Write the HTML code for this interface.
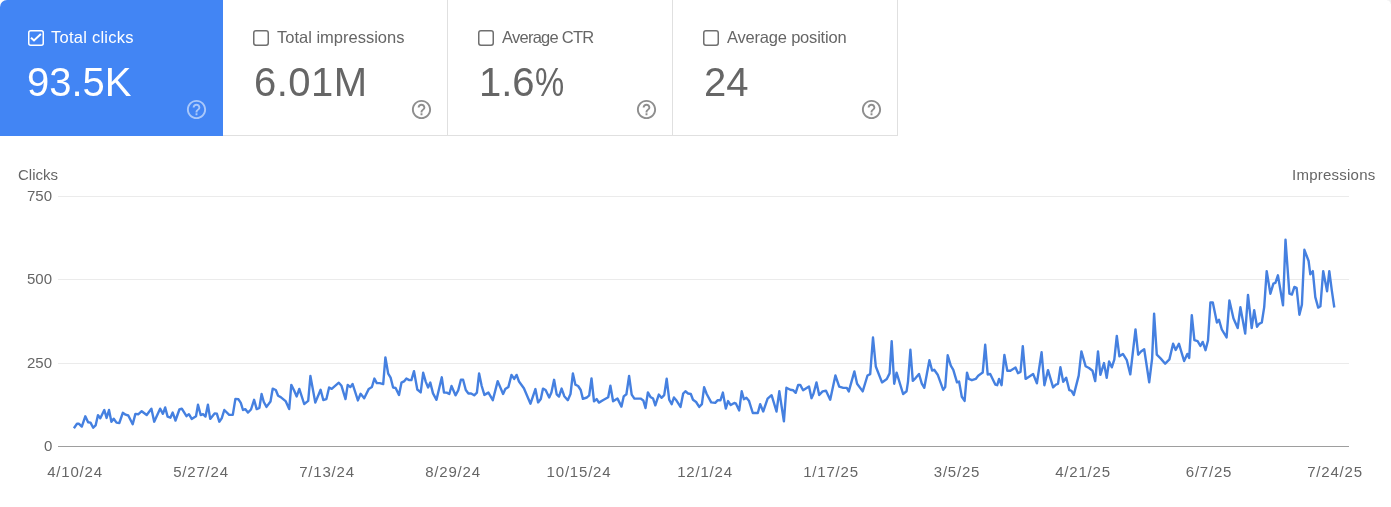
<!DOCTYPE html>
<html><head><meta charset="utf-8"><style>
*{box-sizing:border-box;margin:0;padding:0}
html,body{width:1391px;height:507px;background:#fff;overflow:hidden;font-family:"Liberation Sans",sans-serif;-webkit-font-smoothing:antialiased}
.t,.yl,.xl,.lab,.val{will-change:transform}
.card{position:absolute;top:0;height:136px;border-right:1px solid #e0e0e0;border-bottom:1px solid #e0e0e0;color:#666}
.c1{left:0;width:223px;background:#4285f4;border:none;border-top-left-radius:7px;color:#fff}
.c2{left:223px;width:225px}
.c3{left:448px;width:225px}
.c4{left:673px;width:225px}
.cb{position:absolute;left:30px;top:30px;width:16px;height:16px}
.c1 .cb{left:28px}
.lab{position:absolute;left:54px;top:27px;font-size:16.5px;line-height:20px;white-space:nowrap}
.c1 .lab{left:51px;letter-spacing:0.25px}
.val{position:absolute;left:31px;top:59.5px;font-size:40px;line-height:44px;white-space:nowrap}
.c1 .val{left:27px}
.q{position:absolute;left:187px;top:98px;width:23px;height:23px}
.c1 .q{left:185px}
.t{position:absolute;font-size:15px;color:#666;white-space:nowrap;line-height:16px}
.yl{position:absolute;right:1339px;font-size:15px;color:#666;line-height:16px}
.xl{position:absolute;top:464px;font-size:15px;letter-spacing:0.8px;color:#666;line-height:16px;width:80px;text-align:center}
</style></head><body>
<div class="card c1">
 <div class="cb"><svg width="16" height="16" viewBox="0 0 16 16" style="position:absolute;left:0;top:0"><rect x="0.75" y="0.75" width="14.5" height="14.5" rx="2" fill="none" stroke="#fff" stroke-width="1.5"/><path d="M3 7.7 L6 10.5 L12.9 4" stroke="#fff" stroke-width="2" fill="none"/></svg></div>
 <div class="lab">Total clicks</div>
 <div class="val">93.5K</div>
 <svg class="q" viewBox="0 0 24 24"><path fill="rgba(255,255,255,0.55)" d="M11 18h2v-2h-2v2zm1-16C6.48 2 2 6.48 2 12s4.48 10 10 10 10-4.48 10-10S17.52 2 12 2zm0 18c-4.41 0-8-3.59-8-8s3.59-8 8-8 8 3.59 8 8-3.59 8-8 8zm0-14c-2.21 0-4 1.79-4 4h2c0-1.100.9-2 2-2s2 .9 2 2c0 2-3 1.750-3 5h2c0-2.250 3-2.500 3-5 0-2.210-1.790-4-4-4z"/></svg>
</div>
<div class="card c2">
 <div class="cb"><svg width="16" height="16" viewBox="0 0 16 16" style="position:absolute;left:0;top:0"><rect x="0.75" y="0.75" width="14.5" height="14.5" rx="2.2" fill="none" stroke="#6f6f6f" stroke-width="1.5"/></svg></div>
 <div class="lab">Total impressions</div>
 <div class="val" style="letter-spacing:0.45px">6.01M</div>
 <svg class="q" viewBox="0 0 24 24"><path fill="#8e8e8e" d="M11 18h2v-2h-2v2zm1-16C6.48 2 2 6.48 2 12s4.48 10 10 10 10-4.48 10-10S17.52 2 12 2zm0 18c-4.41 0-8-3.590-8-8s3.590-8 8-8 8 3.590 8 8-3.590 8-8 8zm0-14c-2.210 0-4 1.790-4 4h2c0-1.100.9-2 2-2s2 .9 2 2c0 2-3 1.750-3 5h2c0-2.250 3-2.500 3-5 0-2.210-1.790-4-4-4z"/></svg>
</div>
<div class="card c3">
 <div class="cb"><svg width="16" height="16" viewBox="0 0 16 16" style="position:absolute;left:0;top:0"><rect x="0.75" y="0.75" width="14.5" height="14.5" rx="2.2" fill="none" stroke="#6f6f6f" stroke-width="1.5"/></svg></div>
 <div class="lab" style="letter-spacing:-0.75px">Average CTR</div>
 <div class="val">1.6<span style="display:inline-block;transform:scaleX(0.82);transform-origin:0 0">%</span></div>
 <svg class="q" viewBox="0 0 24 24"><path fill="#8e8e8e" d="M11 18h2v-2h-2v2zm1-16C6.48 2 2 6.48 2 12s4.48 10 10 10 10-4.48 10-10S17.52 2 12 2zm0 18c-4.41 0-8-3.590-8-8s3.590-8 8-8 8 3.590 8 8-3.590 8-8 8zm0-14c-2.210 0-4 1.790-4 4h2c0-1.100.9-2 2-2s2 .9 2 2c0 2-3 1.750-3 5h2c0-2.250 3-2.500 3-5 0-2.210-1.790-4-4-4z"/></svg>
</div>
<div class="card c4">
 <div class="cb"><svg width="16" height="16" viewBox="0 0 16 16" style="position:absolute;left:0;top:0"><rect x="0.75" y="0.75" width="14.5" height="14.5" rx="2.2" fill="none" stroke="#6f6f6f" stroke-width="1.5"/></svg></div>
 <div class="lab" style="letter-spacing:-0.2px">Average position</div>
 <div class="val">24</div>
 <svg class="q" viewBox="0 0 24 24"><path fill="#8e8e8e" d="M11 18h2v-2h-2v2zm1-16C6.48 2 2 6.48 2 12s4.48 10 10 10 10-4.48 10-10S17.52 2 12 2zm0 18c-4.41 0-8-3.590-8-8s3.590-8 8-8 8 3.590 8 8-3.590 8-8 8zm0-14c-2.210 0-4 1.790-4 4h2c0-1.100.9-2 2-2s2 .9 2 2c0 2-3 1.750-3 5h2c0-2.250 3-2.500 3-5 0-2.210-1.790-4-4-4z"/></svg>
</div>

<div style="position:absolute;right:0;top:0;width:4px;height:4px;background:radial-gradient(circle at 0 100%,rgba(240,240,240,0) 3px,#f0f0f0 4.2px)"></div>
<div class="t" style="left:18px;top:167px">Clicks</div>
<div class="t" style="left:1292px;top:167px;letter-spacing:0.24px">Impressions</div>
<div class="yl" style="top:188px">750</div>
<div class="yl" style="top:271px">500</div>
<div class="yl" style="top:355px">250</div>
<div class="yl" style="top:438px">0</div>

<svg style="position:absolute;left:0;top:0" width="1391" height="507">
 <g stroke="#ebebeb" stroke-width="1">
  <line x1="58" y1="196.5" x2="1349" y2="196.5"/>
  <line x1="58" y1="279.5" x2="1349" y2="279.5"/>
  <line x1="58" y1="363.5" x2="1349" y2="363.5"/>
 </g>
 <line x1="58" y1="446.5" x2="1349" y2="446.5" stroke="#9e9e9e" stroke-width="1"/>
 <polyline id="ln" fill="none" stroke="#4580e0" stroke-width="2.4" stroke-linejoin="round" points="73.9,428.2 77,423.8 79,423.8 81.8,426.6 85.3,416.3 88.1,422.2 90.5,422.6 93.2,427.7 95.6,425.4 98,415.1 100.3,418.3 104.3,410 106.6,417.9 109,410 111.4,421.8 113.7,418.7 116.5,422.6 119.3,423 122.8,412.8 125.6,414.7 128.3,415.5 132.7,424.2 135.4,413.9 138.2,414.3 141.7,411.2 146.7,415 151.4,408.7 154.2,421.7 160.1,408.7 162.9,413.8 165.2,407.5 167.6,416.6 170.4,417.7 172.7,412.6 175.5,420.5 179.4,409.5 181.8,408.7 186.5,416.2 188.9,414.2 191.7,418.9 196,416.2 198,404.7 200.7,415 203.1,414.2 205.5,416.6 207.9,404.7 210.2,418.9 214.6,413.4 216.9,413.8 219.3,421.7 221.7,418.4 224.3,410 229.2,414.9 232.8,414.9 235.4,398.9 238.5,399.3 240.8,402.9 243,410 245.2,409.1 247.9,412.6 251,409.5 254.1,399.8 256.7,409.1 259.4,407.8 261.6,394 263.8,402 266.5,406.9 270.5,401.5 272.7,388.7 275.8,390 278.1,395.8 280.7,397.1 285.6,401.1 289.2,409.1 291.3,384.9 294,390.2 296.7,396.4 299.3,388.9 304.2,404 308.2,400.9 310.4,376 315.3,402.6 320.6,389.8 323.3,400 326.4,399.1 329.1,387.5 331.7,388.9 338.8,382.7 341.5,385.8 345.5,399.1 347.7,384.9 350.4,387.1 352.6,384 357.9,400.4 360.6,393.8 364.2,398.2 368.8,388.9 371.9,387 374.4,378.6 376.8,383.1 379.8,383.1 383.2,384.1 385.4,357.4 388.2,373.7 390.6,377.6 393.1,387.5 395.6,388 399,394.9 401.5,382.6 404.4,381.1 406.4,378.6 409.4,380.1 411.4,380.1 414,371.2 417.3,389.5 420.7,392.4 423.2,372.7 425.7,381.6 428.1,387.5 430.3,382.6 433,393.4 436.5,399.8 441.8,377.3 444,392.6 446.7,392.6 449.3,394 451.5,386 455.5,395.3 458.2,390.4 460.9,379.8 463.1,379.8 465.8,390 468.4,393.5 471.1,393.5 474.2,395.3 476.9,392.6 479.1,373.5 481.7,386 484.4,394.9 488.4,392.6 492.8,400.2 497.7,381.1 503.1,394 505.3,389.1 508.4,386.9 511.5,374.9 514.2,378.9 516.6,374.9 519,381.5 523.9,388.2 530.5,403.7 535.4,389.1 538.1,402.4 540.8,398.9 543,388.6 545.6,390 549.2,397.5 551.4,392.6 554.1,379.8 556.7,394.4 559,396.6 561.6,388.6 564.3,396.2 567.8,400.2 570.5,394 572.9,373.5 575.4,384.7 578.1,386 580.7,390 582.9,398.9 586.9,397.5 589.2,395.3 591.5,378.5 594,401.3 596.7,399.1 598.9,402.6 603.3,400 608.2,397.3 610.4,385.8 613.1,401.3 617.5,398.6 621.5,406.6 623.7,396.4 626.4,394.2 629.1,376 631.7,394.6 634.4,398.6 640.6,398.6 643.3,400.4 645.5,408 647.9,392.4 650.4,396.9 653.1,398.6 655.3,405.3 658.8,394.6 661.5,397.8 664.2,395.1 666.7,378.8 669.2,399.6 671.7,404.2 673.9,397.5 676.5,400.6 680.5,406.9 683.2,393.5 685.4,391.3 688.1,393.5 690.8,394 693,399.8 696.1,402 699.2,406.9 701.9,404.2 704.1,387.3 706.7,394 711.2,402.4 715.2,402.9 717.8,400.2 720.5,400.2 722.9,392.6 725.8,408.6 728.1,401.1 730.7,405.1 734.3,402.9 736,403.7 739.2,410.4 741.7,391.3 743.9,399.2 746.4,397.7 748.9,400.7 752.8,413 757.8,413 760.2,404.1 763.2,411.5 767.6,398.7 771.6,395.2 776.5,411.5 779.3,391.3 783.9,421.4 786.4,387.8 790.3,389.8 793.3,390.3 795.7,392.8 798.2,384.9 800.2,384.9 803.1,390.3 809,386.4 811.5,398.2 813.5,393.8 816.5,382.4 819.2,395 822.6,391.4 826,390.7 830.2,399.7 835.4,375.5 839.2,386.6 843.3,387.9 846.8,387.9 848.8,391.4 854.4,371.4 857.1,383.8 862.7,391.4 867.5,375.5 870.2,374.1 873,337.5 875.8,366.5 882,382.4 886.8,379 889.6,373.4 891.7,341.2 894.2,383.7 896.6,372.6 903.1,394 906.6,391.2 908,381.6 910.4,349.8 912.8,380.9 915.6,378.1 919,374 921.8,383.7 924.3,387.8 929.4,360.2 932.1,370.5 934.2,369.8 937.7,374.7 943.2,389.9 945.2,387.1 947.7,355.3 950.8,365.7 953.3,369.8 957,382.3 959.1,381.6 961.8,396.8 964.6,400.9 967,372.6 968.8,378.9 971.9,380.2 975.7,378.9 978.2,375.7 982.7,372.6 985.2,344.8 987.7,374.5 990.2,373.9 995.3,384.6 997.2,385.2 999.1,378.9 1001.6,385.2 1004.4,354.9 1007.3,370.7 1010.4,370.7 1015.5,367.5 1018,373.2 1020.5,372 1022.8,346.1 1025.6,378.9 1029.4,376.4 1033.1,373.9 1036.9,383.3 1041.6,352.3 1044.4,385.2 1048,370.1 1053.1,387.3 1055.9,384.6 1058,383.9 1060.4,367.3 1063.2,381.8 1066.2,377.7 1069.3,390.1 1071.5,390.8 1073.8,394.9 1078.7,375.6 1081.4,351.4 1085.6,366.2 1089,368 1092.5,370.7 1095.2,381.1 1098,351.4 1100.4,374.9 1104,363.1 1106.7,377.7 1109.1,361.5 1111.8,367.3 1114.3,359.7 1116.8,336 1119.4,356.3 1122.9,353.9 1126.8,360.2 1130.3,374.4 1135.5,329.5 1138.2,354.7 1141,351.5 1144.2,349.2 1149.2,382.3 1152.1,358.6 1154.1,313.7 1156.8,354.7 1160.8,358.6 1165.2,363.7 1169.4,359.4 1173.1,343.7 1175.7,350 1178.9,343.7 1184.1,361 1187.3,353.9 1189.2,357.9 1191.8,315.1 1194.4,340.1 1197.6,341.2 1200.4,346 1202.7,341.9 1205.5,350.2 1208,340.5 1210.4,302.5 1212.8,302.5 1216.9,322.5 1219,319.8 1221.8,329.5 1226.6,337.4 1229.4,300.4 1233.5,318.4 1237.7,328.1 1240.4,307.3 1245.2,333.6 1248,294.9 1251.7,328.1 1254.2,310.1 1257,326.7 1259.1,323.9 1261.8,322.5 1264.2,307.1 1266.7,271.1 1270.4,293.7 1273.4,283.6 1275.4,282.8 1277.9,275.3 1283,305.4 1285.5,239.7 1289.4,293.7 1291.9,294.5 1294.4,287 1296.6,287.8 1299.4,314.7 1301.9,304.6 1304.4,249.8 1308.6,261 1310.3,274.4 1312.8,271.1 1315.3,297.1 1318.2,307.6 1320.4,306.3 1323.2,271.1 1327.1,291.2 1329.3,271.1 1331.8,290.3 1334.3,307.5"/>
</svg>

<div class="xl" style="left:35.0px">4/10/24</div>
<div class="xl" style="left:161.0px">5/27/24</div>
<div class="xl" style="left:286.9px">7/13/24</div>
<div class="xl" style="left:412.9px">8/29/24</div>
<div class="xl" style="left:538.9px">10/15/24</div>
<div class="xl" style="left:664.8px">12/1/24</div>
<div class="xl" style="left:790.8px">1/17/25</div>
<div class="xl" style="left:916.8px">3/5/25</div>
<div class="xl" style="left:1042.8px">4/21/25</div>
<div class="xl" style="left:1168.7px">6/7/25</div>
<div class="xl" style="left:1294.7px">7/24/25</div>
</body></html>
